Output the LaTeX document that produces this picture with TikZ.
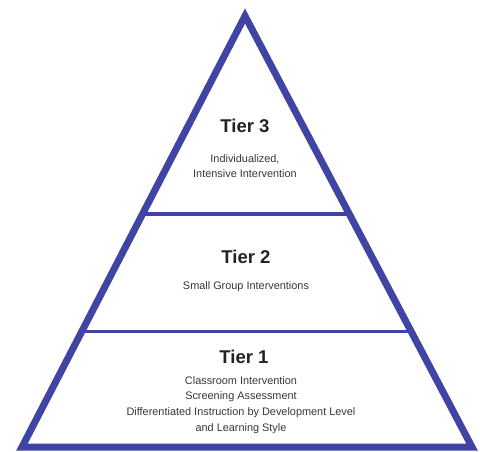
\documentclass[tikz,border=0pt]{standalone}
\usepackage{fontspec}
\setmainfont{Liberation Sans}
\usepackage{tikz}
\usetikzlibrary{calc}
\definecolor{pyramidblue}{RGB}{64,68,163}
\definecolor{titlegray}{RGB}{35,35,35}
\definecolor{bodygray}{RGB}{55,55,55}
\tikzset{
  tiertitle/.style={font=\fontsize{18.5}{20}\selectfont\bfseries,text=titlegray,inner sep=0pt},
  tierbody/.style={font=\fontsize{10.9}{15.7}\selectfont,text=bodygray,align=center,inner sep=0pt},
  divider/.style={pyramidblue,line width=3.5pt},
}

\begin{document}
\begin{tikzpicture}[x=1pt,y=-1pt]
                \useasboundingbox (0,0) rectangle (480,452);
                \coordinate (apex) at (245,16);
                \coordinate (baseL) at (22,447);
                \coordinate (baseR) at (472,447);
                % dividers between the tiers
                \coordinate (upL) at ($(apex)!0.459!(baseL)$);
                \coordinate (upR) at ($(apex)!0.459!(baseR)$);
                \coordinate (lowL) at ($(apex)!0.732!(baseL)$);
                \coordinate (lowR) at ($(apex)!0.732!(baseR)$);
                \draw[divider] (upL) -- (upR);
                \draw[divider] (lowL) -- (lowR);
                \draw[pyramidblue,line width=7pt,line join=miter] 
                    (apex) -- (baseL) -- (baseR) -- cycle;
                % tier labels
                \node[tiertitle] (t3) at (245,126) {Tier 3};
                \node[tierbody] (b3) at (245,166) {Individualized,\\Intensive Intervention};
                \node[tiertitle] (t2) at (246,257) {Tier 2};
                \node[tierbody] (b2) at (246,287) {Small Group Interventions};
                \node[tiertitle] (t1) at (244,357) {Tier 1};
                \node[tierbody] (b1) at (241,405) {Classroom Intervention\\Screening Assessment\\Differentiated Instruction by Development Level\\and Learning Style};
            \end{tikzpicture}
\end{document}
